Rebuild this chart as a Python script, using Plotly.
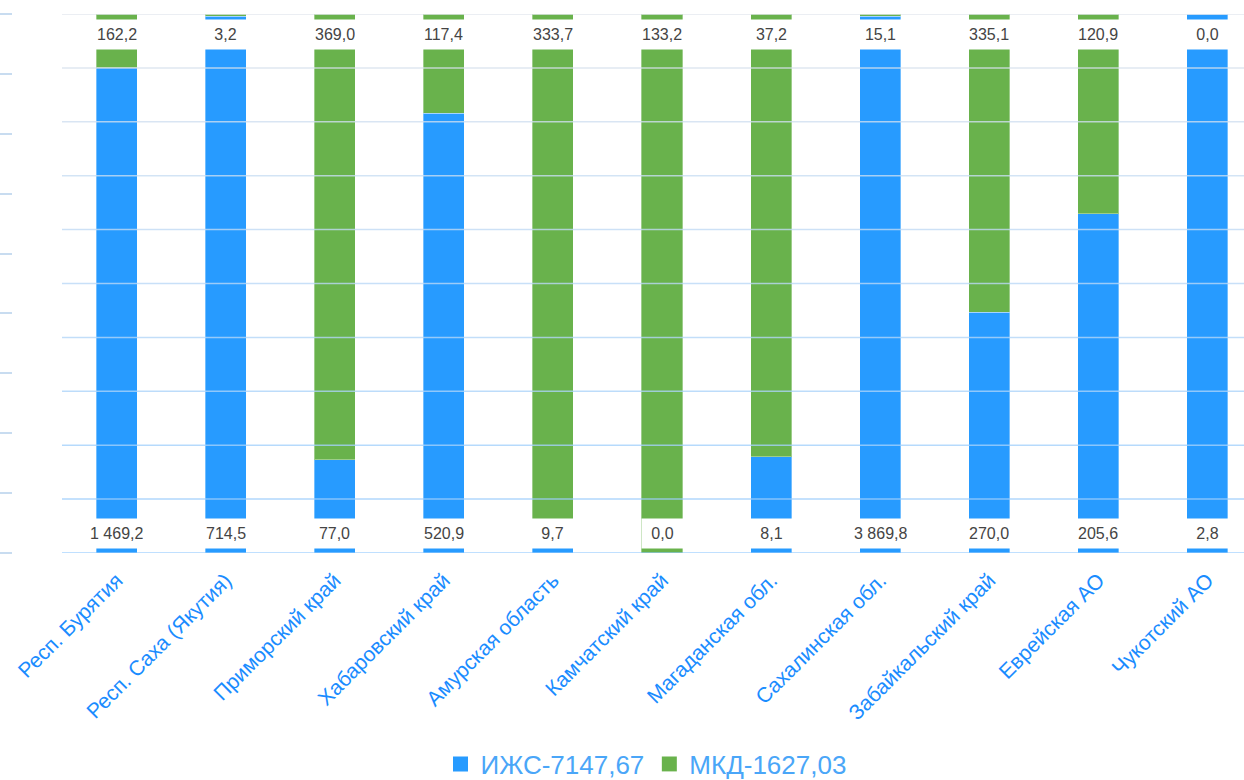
import plotly.graph_objects as go

categories = ["Респ. Бурятия", "Респ. Саха (Якутия)", "Приморский край", "Хабаровский край",
              "Амурская область", "Камчатский край", "Магаданская обл.", "Сахалинская обл.",
              "Забайкальский край", "Еврейская АО", "Чукотский АО"]
izhs = [1469.2, 714.5, 77.0, 520.9, 9.7, 0.0, 8.1, 3869.8, 270.0, 205.6, 2.8]
mkd = [162.2, 3.2, 369.0, 117.4, 333.7, 133.2, 37.2, 15.1, 335.1, 120.9, 0.0]
series_names = ["ИЖС-7147,67", "МКД-1627,03"]
grid_values = list(range(0, 101, 10))
left_tick_values = list(range(0, 10))

BLUE = "#279bff"
GREEN = "#69b24c"
FONT = "Liberation Sans, Arial, sans-serif"
W, H = 1244, 780
PLOT_LEFT = 62


def fmt(v):
    return f"{v:,.1f}".replace(",", " ").replace(".", ",")


fig = go.Figure()
for vals, name, col in ((izhs, series_names[0], BLUE), (mkd, series_names[1], GREEN)):
    fig.add_trace(go.Bar(x=categories, y=vals, name=name, showlegend=False,
                         marker=dict(color=col, line=dict(color="rgba(255,255,255,0.35)", width=1)),
                         hoverinfo="skip"))
# legend entries with larger square symbols
for name, col in ((series_names[0], BLUE), (series_names[1], GREEN)):
    fig.add_trace(go.Scatter(x=[None], y=[None], name=name, mode="markers",
                             marker=dict(symbol="square", size=15, color=col),
                             hoverinfo="skip"))

annotations = []
for cat, b, g in zip(categories, izhs, mkd):
    for val, ypos in ((g, 96.2), (b, 3.7)):
        t = fmt(val)
        ann = dict(x=cat, y=ypos, xref="x", yref="y", text=t, showarrow=False,
                   font=dict(family=FONT, size=16, color="#444"),
                   bgcolor="white", height=27, borderpad=1, valign="middle")
        if len(t) <= 4:
            ann["width"] = 39
        annotations.append(ann)


def lerp(c1, c2, t):
    return tuple(round(a + (b - a) * t) for a, b in zip(c1, c2))


top_c = (222, 228, 236)
bot_c = (150, 204, 255)
shapes = []
for v in grid_values:
    c = lerp(top_c, bot_c, 1 - v / 100)
    shapes.append(dict(type="line", xref="x domain", yref="y", x0=0, x1=1, y0=v, y1=v,
                       line=dict(color=f"rgba({c[0]},{c[1]},{c[2]},0.8)", width=1.5),
                       layer="above"))

fig.update_layout(
    barmode="stack",
    barnorm="percent",
    bargap=0.624,
    width=W, height=H,
    margin=dict(l=0, r=0, t=14, b=227, autoexpand=False),
    paper_bgcolor="white", plot_bgcolor="white",
    font=dict(family=FONT),
    showlegend=True,
    legend=dict(orientation="h", x=646 / W, xanchor="center", y=(553 - 764) / 539,
                yanchor="middle",
                font=dict(family=FONT, size=26, color="#4aa6f8"), itemsizing="trace",
                traceorder="normal", itemclick=False),
    xaxis=dict(domain=[PLOT_LEFT / W, 1], range=[-0.5, 10.335], tickangle=-45, showgrid=False,
               showline=False, ticks="", ticklabelstandoff=10, automargin=False,
               tickfont=dict(family=FONT, size=21, color="#1a8cff"), fixedrange=True),
    yaxis=dict(range=[0, 100], showgrid=False, showticklabels=False, zeroline=False,
               showline=False, ticks="", fixedrange=True, automargin=False),
    yaxis2=dict(range=[0, 9], overlaying="y", anchor="free", position=12 / W, side="left",
                tickvals=left_tick_values, ticks="outside", ticklen=12, tickwidth=1.5,
                tickcolor="#c8dcf0", showticklabels=False, showgrid=False, zeroline=False,
                showline=False, fixedrange=True, automargin=False),
    annotations=annotations,
    shapes=shapes,
)
# invisible trace to activate yaxis2
fig.add_trace(go.Scatter(x=[categories[0]], y=[0], yaxis="y2", mode="markers",
                         marker=dict(opacity=0), showlegend=False, hoverinfo="skip"))

fig.write_html("out.html", config={"displayModeBar": False})
